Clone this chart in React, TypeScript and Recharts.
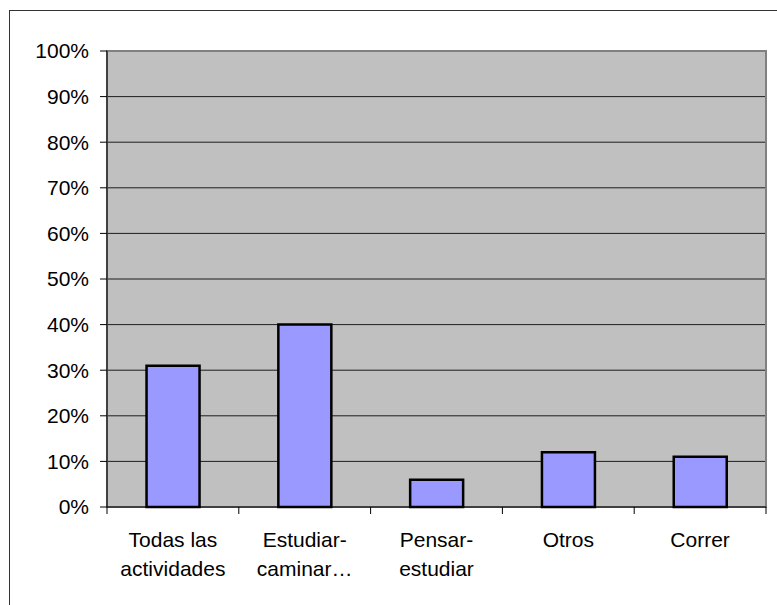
import { BarChart, Bar, XAxis, YAxis, CartesianGrid, ReferenceArea } from 'recharts';

const categories = ['Todas las\nactividades', 'Estudiar-\ncaminar…', 'Pensar-\nestudiar', 'Otros', 'Correr'];
const shares = [0.31, 0.4, 0.06, 0.12, 0.11];
const yTicks = [0, 0.1, 0.2, 0.3, 0.4, 0.5, 0.6, 0.7, 0.8, 0.9, 1];

const data = categories.map((name, i) => ({ name, value: shares[i] }));

const FONT = '"Liberation Sans", Arial, sans-serif';

// category label plus Excel-style tick marks on the band edges
function CategoryTick({ x, y, payload, index }: any) {
  const lines = String(payload.value).split('\n');
  const half = payload.offset || 0;
  const last = index === categories.length - 1;
  return (
    <g>
      <line x1={x - half} x2={x - half} y1={y} y2={y + 7} stroke="#000" />
      {last && <line x1={x + half} x2={x + half} y1={y} y2={y + 7} stroke="#000" />}
      <text x={x} y={y} textAnchor="middle" fontFamily={FONT} fontSize={21} fill="#000">
        {lines.map((line, i) => (
          <tspan key={i} x={x} dy={i === 0 ? 40 : 29}>
            {line}
          </tspan>
        ))}
      </text>
    </g>
  );
}

export default function App() {
  return (
    <div style={{ position: 'absolute', left: 0, top: 0, width: 777, height: 605, background: '#fff', overflow: 'hidden' }}>
      <div
        style={{
          position: 'absolute',
          left: 9,
          top: 10,
          width: 800,
          height: 620,
          border: '1.5px solid #333',
          boxSizing: 'border-box',
        }}
      />
      <div style={{ position: 'absolute', left: 0, top: 0 }}>
        <BarChart
          width={777}
          height={605}
          data={data}
          margin={{ top: 51, right: 11, bottom: 38, left: 0 }}
          barCategoryGap="30%"
        >
          <CartesianGrid vertical={false} fill="#C0C0C0" stroke="#000" strokeOpacity={0.85} />
          <ReferenceArea y1={0} y2={1} fill="none" stroke="#808080" strokeWidth={2} ifOverflow="visible" />
          <XAxis
            dataKey="name"
            height={60}
            interval={0}
            tickSize={0}
            tickMargin={0}
            axisLine={{ stroke: '#000' }}
            tickLine={false}
            tick={<CategoryTick />}
          />
          <YAxis
            domain={[0, 1]}
            ticks={yTicks}
            width={107}
            tickSize={7}
            tickMargin={11}
            axisLine={{ stroke: '#000' }}
            tickLine={{ stroke: '#000' }}
            tick={{ fontFamily: FONT, fontSize: 21, fill: '#000' }}
            tickFormatter={(v: number) => `${Math.round(v * 100)}%`}
          />
          <Bar dataKey="value" fill="#9999FF" stroke="#000" strokeWidth={2.5} isAnimationActive={false} />
        </BarChart>
      </div>
    </div>
  );
}
